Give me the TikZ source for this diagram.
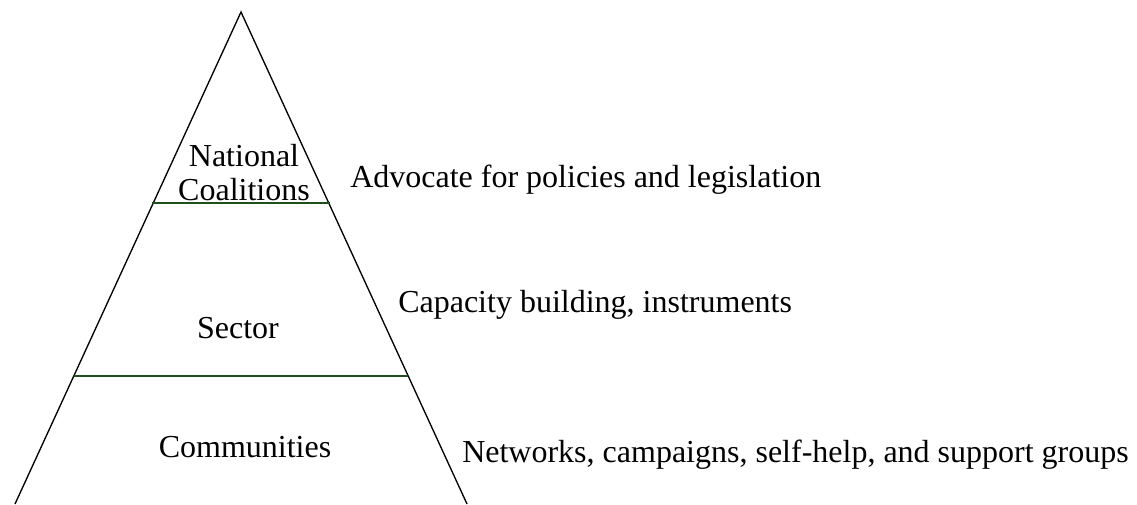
\documentclass[tikz,border=0pt]{standalone}
\usepackage{fontspec}
\setmainfont{Liberation Serif}
\definecolor{bandgreen}{RGB}{30,80,30}

\begin{document}
\begin{tikzpicture}[x=0.75pt,y=-0.75pt,
  tier/.style={font=\fontsize{24}{24}\selectfont,inner sep=0pt,anchor=base},
  role/.style={font=\fontsize{24}{24}\selectfont,inner sep=0pt,anchor=base west}]
\useasboundingbox (0,0) rectangle (1137,504);
\pgfmathsetmacro{\apexx}{241}
\pgfmathsetmacro{\apexy}{12}
\draw[black,line width=1pt] (15,504) -- (\apexx,\apexy) -- (467,504);
\draw[bandgreen,line width=1.2pt] (152,203) -- (330,203);
\draw[bandgreen,line width=1.2pt] (74,376) -- (408,376);
\node[tier] (national) at (244,166) {National};
\node[tier] (coalitions) at (244,200) {Coalitions};
\node[tier] (sector) at (238,338) {Sector};
\node[tier] (communities) at (245,457) {Communities};
\node[role] (advocate) at (350,187) {Advocate for policies and legislation};
\node[role] (capacity) at (398,312) {Capacity building, instruments};
\node[role] (networks) at (462,462) {Networks, campaigns, self-help, and support groups};
\end{tikzpicture}
\end{document}
